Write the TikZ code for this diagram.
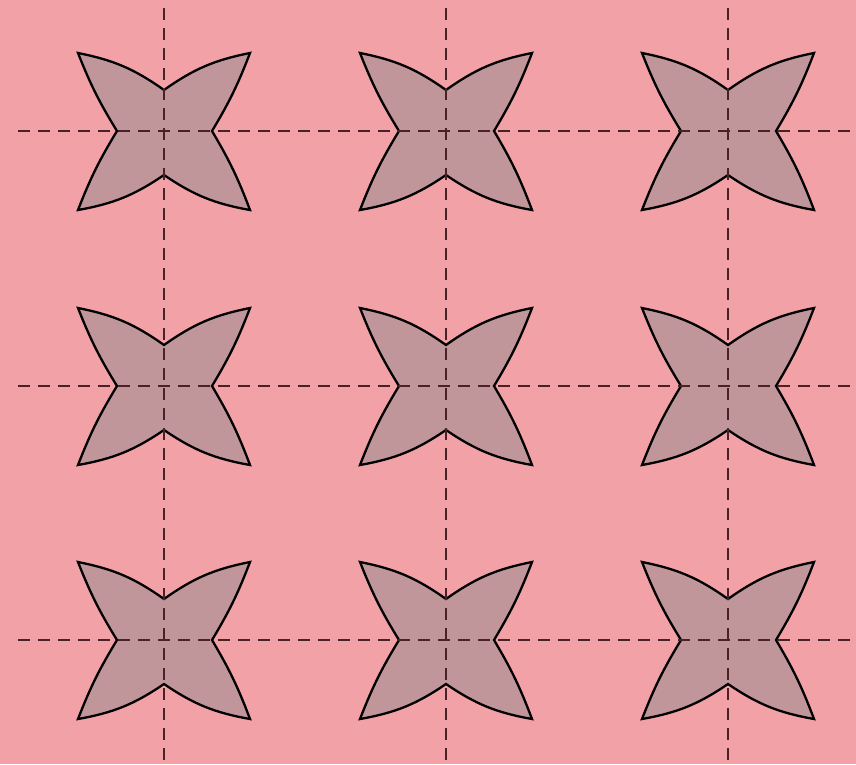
\documentclass[tikz,border=0pt]{standalone}
\usetikzlibrary{calc}
\definecolor{bgpink}{RGB}{242,161,166}
\definecolor{starfill}{RGB}{192,150,155}
\definecolor{dashcol}{RGB}{72,34,38}
\tikzset{
  guide/.style={draw=dashcol, line width=1.3pt, dash pattern=on 12pt off 8pt},
  star/.style={draw=black, line width=2.3pt, fill=starfill, line join=miter, miter limit=20},
}
\begin{document}
\begin{tikzpicture}[x=1pt,y=-1pt]
\fill[bgpink] (0,0) rectangle (856,764);
\useasboundingbox (0,0) rectangle (856,764);
% stars
\foreach \cx in {164,446,728}{
  \foreach \cy in {131,386,640}{
    \begin{scope}[shift={(\cx,\cy)}]
      \path[star] (0,-41) to[bend left=12] (86,-78) to[bend left=5] (48,0)
        to[bend left=5] (86,79) to[bend left=12] (0,44)
        to[bend left=12] (-86,79) to[bend left=5] (-47,0)
        to[bend left=5] (-86,-78) to[bend left=12] cycle;
    \end{scope}
  }
}
% guides
\foreach \cx [count=\i] in {164,446,728}{
  \coordinate (vt\i) at (\cx,8);
  \coordinate (vb\i) at (\cx,764);
  \draw[guide] (vt\i) -- (vb\i);
}
\foreach \cy [count=\i] in {131,386,640}{
  \coordinate (hl\i) at (18,\cy);
  \coordinate (hr\i) at (856,\cy);
  \draw[guide] (hl\i) -- (hr\i);
}
\end{tikzpicture}
\end{document}
